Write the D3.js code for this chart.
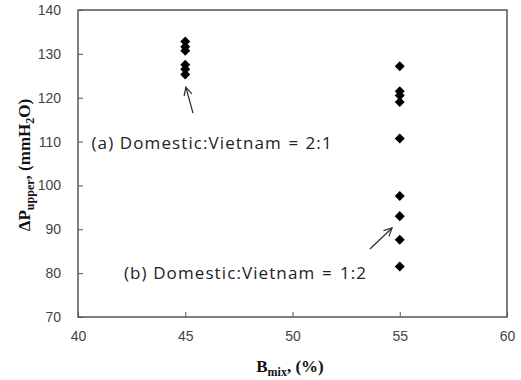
<!DOCTYPE html>
<html>
<head>
<meta charset="utf-8">
<script src="https://cdn.jsdelivr.net/npm/d3@7"></script>
<style>
  body { margin: 0; background: #fff; }
  .tick text { font-family: "Liberation Sans", Arial, sans-serif; font-size: 14px; fill: #444; }
  .axis-label { font-family: "Liberation Serif", "Times New Roman", serif; font-weight: bold; fill: #111; }
  .note { font-family: "Open Sans", "Noto Sans", sans-serif; font-size: 17px; fill: #222; letter-spacing: 1.1px; }
</style>
</head>
<body>
<div id="chart"></div>
<script>
// Data
const bmixA = 45;
const dpA = [132.8, 131.6, 130.7, 127.5, 126.5, 125.3];
const bmixB = 55;
const dpB = [127.2, 121.5, 120.5, 119.0, 110.7, 97.6, 93.0, 87.6, 81.5];
const xTicks = [40, 45, 50, 55, 60];
const yTicks = [70, 80, 90, 100, 110, 120, 130, 140];

const margin = { top: 10, right: 14, bottom: 63, left: 78 };
const width = 521 - margin.left - margin.right;
const height = 380 - margin.top - margin.bottom;

const svg = d3.select("#chart")
    .append("svg")
    .attr("width", 521)
    .attr("height", 380);

const g = svg.append("g")
    .attr("transform", `translate(${margin.left},${margin.top})`);

const x = d3.scaleLinear().domain([40, 60]).range([0, width]);
const y = d3.scaleLinear().domain([70, 140]).range([height, 0]);

// Axes with inward ticks
const xAxis = g.append("g")
    .attr("transform", `translate(0,${height})`)
    .call(d3.axisBottom(x).tickValues(xTicks).tickSizeInner(-5).tickSizeOuter(0).tickPadding(14));
const yAxis = g.append("g")
    .call(d3.axisLeft(y).tickValues(yTicks).tickSizeInner(-5).tickSizeOuter(0).tickPadding(17));

[xAxis, yAxis].forEach(a => {
    a.select(".domain").remove();
    a.selectAll(".tick line").attr("stroke", "#555");
});

// Frame
g.append("rect")
    .attr("width", width)
    .attr("height", height)
    .attr("fill", "none")
    .attr("stroke", "#555")
    .attr("stroke-width", 1.5);

// Points
const diamond = d3.symbol().type(d3.symbolDiamond2).size(64);
const pts = dpA.map(v => [bmixA, v]).concat(dpB.map(v => [bmixB, v]));
g.selectAll(".pt")
    .data(pts)
    .enter()
    .append("path")
    .attr("class", "pt")
    .attr("d", diamond)
    .attr("transform", d => `translate(${x(d[0])},${y(d[1])})`)
    .attr("fill", "#000");

// Arrows
const defs = svg.append("defs");
defs.append("marker")
    .attr("id", "head")
    .attr("viewBox", "0 0 10 10")
    .attr("refX", 9).attr("refY", 5)
    .attr("markerWidth", 10).attr("markerHeight", 10)
    .attr("markerUnits", "userSpaceOnUse")
    .attr("orient", "auto")
    .append("path")
    .attr("d", "M1,1 L9,5 L1,9")
    .attr("fill", "none")
    .attr("stroke", "#333")
    .attr("stroke-width", 1.3);

const arrows = [
    { from: [45.36, 116.5], to: [45.03, 122.4] },
    { from: [53.61, 85.5], to: [54.64, 90.3] }
];
g.selectAll(".arrow")
    .data(arrows)
    .enter()
    .append("line")
    .attr("x1", d => x(d.from[0])).attr("y1", d => y(d.from[1]))
    .attr("x2", d => x(d.to[0])).attr("y2", d => y(d.to[1]))
    .attr("stroke", "#333")
    .attr("stroke-width", 1.3)
    .attr("marker-end", "url(#head)");

// Notes
const notes = [
    { at: [40.63, 108.2], parts: ["(a) Domestic:Vietnam", "=", "2:1"], dx: [0, 197, 214] },
    { at: [42.14, 78.7], parts: ["(b) Domestic:Vietnam", "=", "1:2"], dx: [0, 198, 216] }
];
notes.forEach(n => {
    const t = g.append("text")
        .attr("class", "note")
        .attr("y", y(n.at[1]));
    n.parts.forEach((p, i) => {
        t.append("tspan").attr("x", x(n.at[0]) + n.dx[i]).text(p);
    });
});

// Axis labels
const xl = svg.append("text")
    .attr("class", "axis-label")
    .attr("x", 290)
    .attr("y", 372)
    .attr("text-anchor", "middle")
    .style("font-size", "17px");
xl.append("tspan").text("B");
xl.append("tspan").attr("dy", 4).style("font-size", "12px").text("mix");
xl.append("tspan").attr("dy", -4).text(", (%)");

const yl = svg.append("text")
    .attr("class", "axis-label")
    .attr("transform", "translate(30,165) rotate(-90)")
    .attr("text-anchor", "middle")
    .style("font-size", "17px");
yl.append("tspan").text("ΔP");
yl.append("tspan").attr("dy", 4).style("font-size", "12px").text("upper");
yl.append("tspan").attr("dy", -4).text(", (mmH");
yl.append("tspan").attr("dy", 4).style("font-size", "12px").text("2");
yl.append("tspan").attr("dy", -4).text("O)");
</script>
</body>
</html>
